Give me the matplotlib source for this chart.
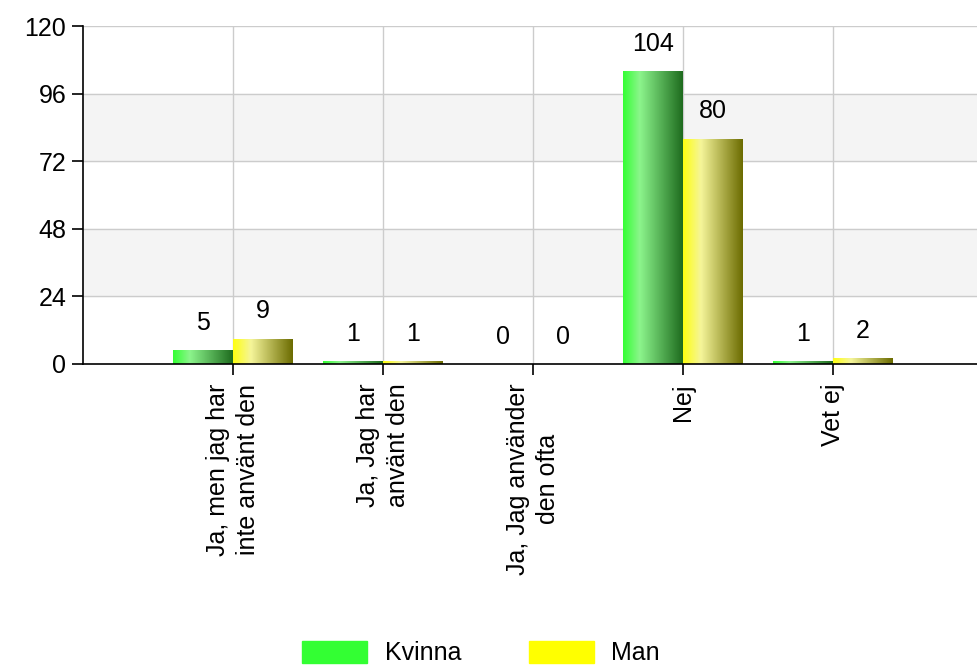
import numpy as np
import matplotlib
matplotlib.use('Agg')
import matplotlib.pyplot as plt
from matplotlib.colors import LinearSegmentedColormap
from matplotlib.patches import Rectangle

categories = ["Ja, men jag har\ninte använt den", "Ja, Jag har\nanvänt den",
              "Ja, Jag använder\nden ofta", "Nej", "Vet ej"]
kvinna = [5, 1, 0, 104, 1]
man = [9, 1, 0, 80, 2]
yticks = [0, 24, 48, 72, 96, 120]

plt.rcParams['font.family'] = ['Liberation Sans', 'DejaVu Sans']

green_cm = LinearSegmentedColormap.from_list(
    "g", [(0, "#33ff33"), (0.28, "#8cf58c"), (1, "#1e6b1e")])
yellow_cm = LinearSegmentedColormap.from_list(
    "y", [(0, "#ffff10"), (0.3, "#f5f59a"), (1, "#6b6b00")])

fig = plt.figure(figsize=(9.78, 6.7), dpi=100)
ax = fig.add_axes([83 / 978, 1 - 364 / 670, 900 / 978, 338 / 670])
ax.set_xlim(-1, 5)
ax.set_ylim(0, 120)

# alternating bands
for i in range(len(yticks) - 1):
    if i % 2 == 1:
        ax.axhspan(yticks[i], yticks[i + 1], color="#f4f4f4", zorder=0)
for y in yticks[1:]:
    ax.axhline(y, color="#cccccc", lw=1, zorder=1)
for x in range(len(categories)):
    ax.axvline(x, color="#cccccc", lw=1, zorder=1)

w = 0.4
grad = np.linspace(0, 1, 256).reshape(1, -1)


def draw_bar(x0, h, cmap):
    if h <= 0:
        return
    im = ax.imshow(grad, cmap=cmap, aspect="auto", extent=[x0, x0 + w, 0, h],
                   zorder=2, interpolation="bilinear")
    rect = Rectangle((x0, 0), w, h, transform=ax.transData)
    im.set_clip_path(rect)


for i, (k, m) in enumerate(zip(kvinna, man)):
    draw_bar(i - w, k, green_cm)
    draw_bar(i, m, yellow_cm)
    ax.annotate(str(k), (i - w / 2, k), xytext=(0, 11), textcoords="offset points",
                ha="center", va="bottom", fontsize=18)
    ax.annotate(str(m), (i + w / 2, m), xytext=(0, 11), textcoords="offset points",
                ha="center", va="bottom", fontsize=18)

ax.set_xlim(-1, 5)
ax.set_ylim(0, 120)
ax.set_yticks(yticks)
ax.set_yticklabels([str(v) for v in yticks], fontsize=18)
ax.set_xticks(range(len(categories)))
ax.set_xticklabels(categories, rotation=90, fontsize=18, va="top", ha="center",
                   linespacing=1.35)
ax.tick_params(axis="both", direction="out", length=8, width=1.2, color="black")
ax.tick_params(axis="x", pad=6)
ax.tick_params(axis="y", pad=4)
for s in ["top", "right"]:
    ax.spines[s].set_visible(False)
ax.spines["left"].set_linewidth(1.2)
ax.spines["bottom"].set_linewidth(1.2)

# legend
handles = [Rectangle((0, 0), 1, 1, color="#33ff33"),
           Rectangle((0, 0), 1, 1, color="#ffff00")]
fig.legend(handles, ["Kvinna", "Man"], loc="center",
           bbox_to_anchor=(481 / 978, 1 - 653 / 670),
           ncol=2, frameon=False, fontsize=18, handlelength=2.6, handleheight=1.0,
           columnspacing=2.7, handletextpad=0.7, borderpad=0.1)

fig.savefig("out.png", dpi=100)
